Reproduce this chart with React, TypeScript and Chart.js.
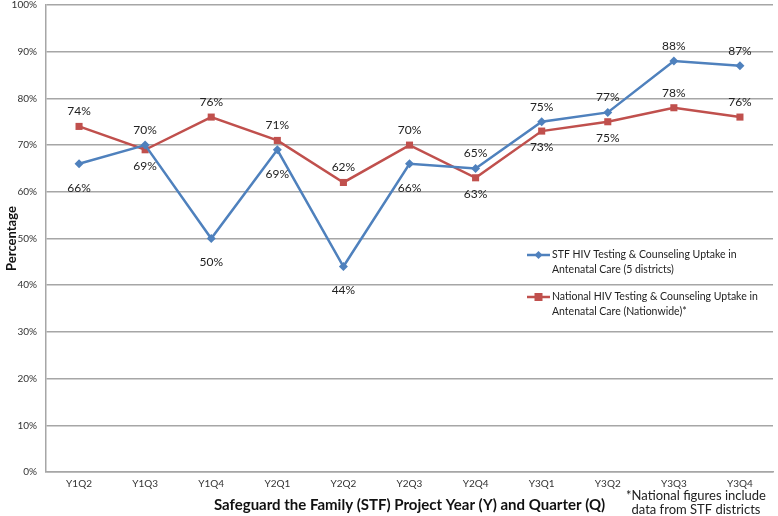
import React, { useEffect, useRef } from "react";
import { Chart, registerables } from "chart.js";

Chart.register(...registerables);

const categories = ["Y1Q2", "Y1Q3", "Y1Q4", "Y2Q1", "Y2Q2", "Y2Q3", "Y2Q4", "Y3Q1", "Y3Q2", "Y3Q3", "Y3Q4"];
const stfValues = [66, 70, 50, 69, 44, 66, 65, 75, 77, 88, 87];
const nationalValues = [74, 69, 76, 71, 62, 70, 63, 73, 75, 78, 76];
// label placement: 1 = above, -1 = below
const stfLabelPos = [-1, 1, -1, -1, -1, -1, 1, 1, 1, 1, 1];
const nationalLabelPos = [1, -1, 1, 1, 1, 1, -1, -1, -1, 1, 1];
const stfName = ["STF HIV Testing & Counseling Uptake in", "Antenatal Care (5 districts)"];
const nationalName = ["National HIV Testing & Counseling Uptake in", "Antenatal Care (Nationwide)*"];
const footnote = ["*National figures include", "data from STF districts"];
const xTitle = "Safeguard the Family (STF) Project Year (Y) and Quarter (Q)";
const yTitle = "Percentage";

const BLUE = "#4F81BD";
const RED = "#C0504D";
const FONT = "Lato, 'Open Sans', sans-serif";
const SHIFT = 10; // canvas shifted up by this many px

const overlay = {
  id: "overlay",
  afterDatasetsDraw(chart: any) {
    const ctx = chart.ctx;
    ctx.save();
    ctx.font = `12px ${FONT}`;
    ctx.fillStyle = "#222";
    ctx.textAlign = "center";
    ctx.textBaseline = "middle";
    const sets = [
      { idx: 0, vals: stfValues, pos: stfLabelPos, below: 24 },
      { idx: 1, vals: nationalValues, pos: nationalLabelPos, below: 16 },
    ];
    sets.forEach((s) => {
      const meta = chart.getDatasetMeta(s.idx);
      meta.data.forEach((pt: any, i: number) => {
        const y = s.pos[i] > 0 ? pt.y - 15 : pt.y + s.below;
        ctx.fillText(s.vals[i] + "%", pt.x, y);
      });
    });

    // legend
    const drawItem = (y: number, color: string, shape: string, lines: string[]) => {
      y += SHIFT;
      ctx.strokeStyle = color;
      ctx.lineWidth = 2.5;
      ctx.beginPath();
      ctx.moveTo(527, y);
      ctx.lineTo(550, y);
      ctx.stroke();
      ctx.fillStyle = color;
      if (shape === "diamond") {
        ctx.beginPath();
        ctx.moveTo(538.5, y - 4);
        ctx.lineTo(542.5, y);
        ctx.lineTo(538.5, y + 4);
        ctx.lineTo(534.5, y);
        ctx.closePath();
        ctx.fill();
      } else {
        ctx.fillRect(534.5, y - 4, 8, 8);
      }
      ctx.fillStyle = "#222";
      ctx.textAlign = "left";
      ctx.font = `10.5px ${FONT}`;
      lines.forEach((l, k) => ctx.fillText(l, 552, y + k * 14.5));
    };
    drawItem(255, BLUE, "diamond", stfName);
    drawItem(297, RED, "square", nationalName);

    // footnote
    ctx.textAlign = "center";
    ctx.font = `13px ${FONT}`;
    ctx.fillStyle = "#222";
    ctx.fillText(footnote[0], 696, 496 + SHIFT);
    ctx.fillText(footnote[1], 696, 510 + SHIFT);
    ctx.restore();
  },
};

export default function App() {
  const ref = useRef<HTMLCanvasElement>(null);
  useEffect(() => {
    const chart = new Chart(ref.current!, {
      type: "line",
      data: {
        labels: categories,
        datasets: [
          {
            label: stfName.join(" "),
            data: stfValues,
            borderColor: BLUE,
            backgroundColor: BLUE,
            borderWidth: 2.5,
            pointStyle: "rectRot",
            pointRadius: 4.5,
            pointBorderWidth: 0,
            tension: 0,
          },
          {
            label: nationalName.join(" "),
            data: nationalValues,
            borderColor: RED,
            backgroundColor: RED,
            borderWidth: 2.5,
            pointStyle: "rect",
            pointRadius: 5,
            pointBorderWidth: 0,
            tension: 0,
          },
        ],
      },
      options: {
        animation: false,
        responsive: false,
        maintainAspectRatio: false,
        layout: { padding: { top: 0, right: 5, left: 0, bottom: 0 } },
        plugins: { legend: { display: false }, tooltip: { enabled: false } },
        scales: {
          x: {
            offset: true,
            grid: { display: false, drawTicks: false },
            border: { color: "#A6A6A6", width: 1.5 },
            ticks: { color: "#333", font: { family: FONT, size: 10 }, padding: 6, maxRotation: 0 },
            title: {
              display: true,
              text: xTitle,
              color: "#111",
              font: { family: FONT, size: 15, weight: "bold" },
              padding: { top: 0, bottom: 2 },
            },
          },
          y: {
            min: 0,
            max: 100,
            afterFit: (scale: any) => {
              scale.width = 46;
            },
            grid: { color: "#A6A6A6", lineWidth: 1.5, drawTicks: false },
            border: { color: "#A6A6A6", width: 1.5 },
            ticks: {
              stepSize: 10,
              color: "#333",
              font: { family: FONT, size: 10 },
              padding: 9,
              callback: (v: any) => v + "%",
            },
            title: {
              display: true,
              text: yTitle,
              color: "#111",
              font: { family: FONT, size: 13, weight: "bold" },
              padding: { top: 4, bottom: 0 },
            },
          },
        },
      },
      plugins: [overlay],
    });
    return () => chart.destroy();
  }, []);
  return (
    <div style={{ position: "fixed", left: 0, top: 0, width: 778, height: 516, background: "#fff", overflow: "hidden" }}>
      <canvas
        ref={ref}
        width={778}
        height={516 + SHIFT}
        style={{ position: "absolute", left: 0, top: -SHIFT, width: 778, height: 516 + SHIFT }}
      />
    </div>
  );
}
